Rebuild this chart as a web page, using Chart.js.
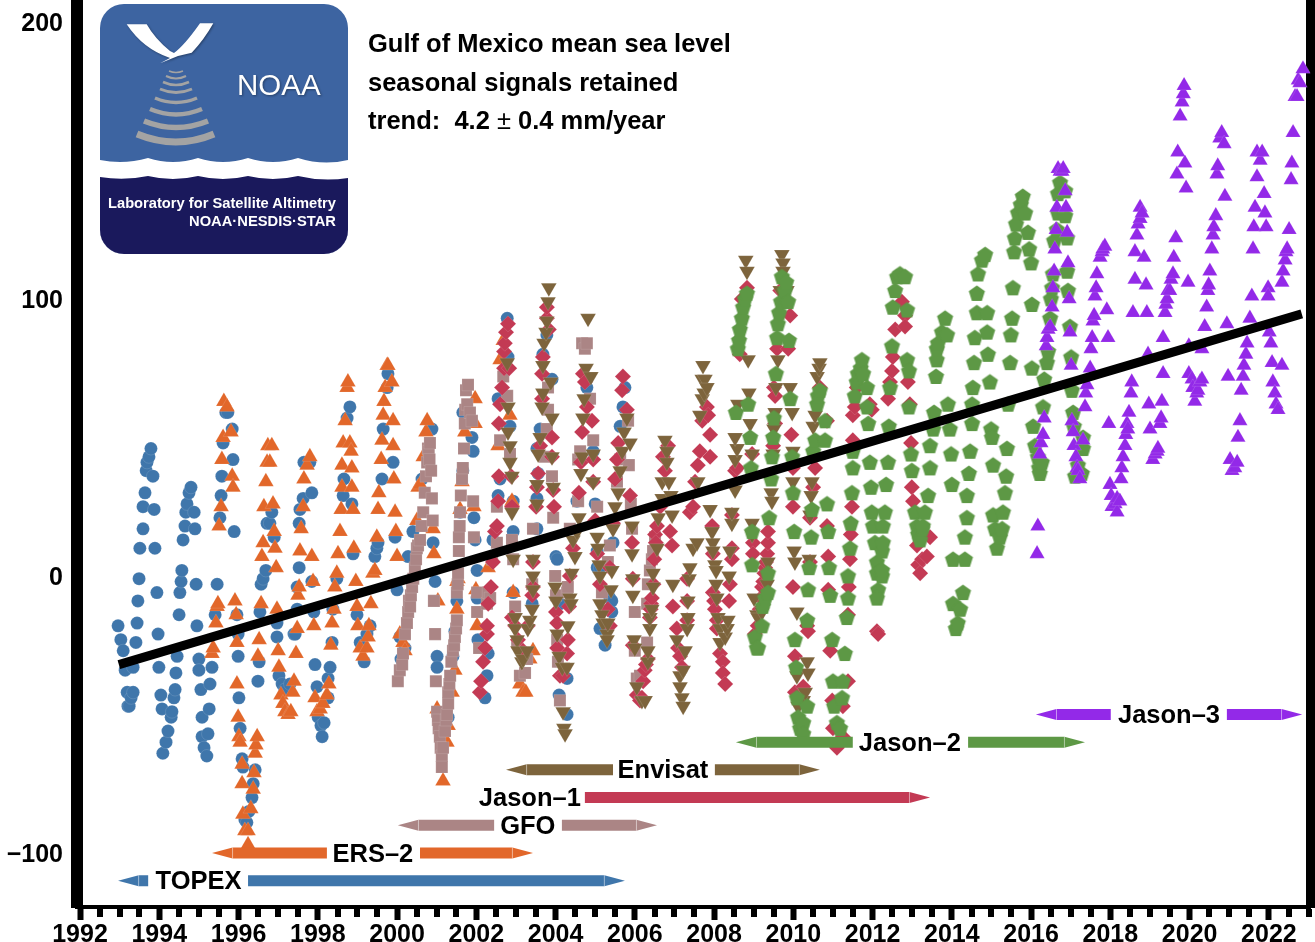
<!DOCTYPE html>
<html>
<head>
<meta charset="utf-8">
<title>Gulf of Mexico mean sea level</title>
<script src="https://cdn.jsdelivr.net/npm/chart.js@4"></script>
<style>
  html, body { margin: 0; padding: 0; background: #fff; }
  #wrap { position: relative; width: 1315px; height: 942px; overflow: hidden; }
  canvas { position: absolute; left: 0; top: 0; }
  .note { position: absolute; left: 368px; font: bold 25.5px "Liberation Sans", sans-serif; color: #000; white-space: pre; line-height: 30px; }
  .note span { font-weight: normal; }
  #logo { position: absolute; left: 100px; top: 4px; }
</style>
</head>
<body>
<div id="wrap">
  <canvas id="seaLevel" width="1315" height="942"></canvas>
  <div class="note" style="top:28px">Gulf of Mexico mean sea level</div>
  <div class="note" style="top:67px">seasonal signals retained</div>
  <div class="note" style="top:105px">trend:  4.2 <span>±</span> 0.4 mm/year</div>
  <svg id="logo" width="248" height="250" viewBox="0 0 248 250">
    <defs><clipPath id="badge"><rect width="248" height="250" rx="24"/></clipPath></defs>
    <g clip-path="url(#badge)">
      <rect width="248" height="250" fill="#3d64a1"/>
      <path d="M0 156 Q24 161 48 154 Q73 162 98 154 Q123 162 148 154 Q173 162 198 154 Q223 162 248 156 V250 H0Z" fill="#fff"/>
      <path d="M0 173 Q24 177 48 172 Q73 178 98 172 Q123 178 148 172 Q173 178 198 172 Q223 178 248 174 V250 H0Z" fill="#1a195c"/>
    </g>
    <path d="M26.7 20.3 L46.7 20.3 Q55 35 70 47 L74 49 Q84 42 100 19.3 L113.3 19.3 Q104 36 91.7 48.7 L78 52 L60 59.3 L70 54 Q43 45 26.7 20.3Z" fill="#fff" style="filter:drop-shadow(1px 1px 1px rgba(0,0,0,.35))"/>
    <g fill="none" stroke="#a3a3a3">
      <path d="M69 67 Q76 70 83 67" stroke-width="1.5"/>
      <path d="M66 72 Q76 77 86 72" stroke-width="2"/>
      <path d="M63 78 Q76 84 89 78" stroke-width="2.5"/>
      <path d="M60 85 Q76 92 92 85" stroke-width="3"/>
      <path d="M55 94 Q76 103 97 94" stroke-width="3.5"/>
      <path d="M50 105 Q76 116 102 105" stroke-width="4.5"/>
      <path d="M44 117 Q76 130 108 117" stroke-width="5.5"/>
      <path d="M37 130 Q76 146 114 130" stroke-width="7"/>
    </g>
    <text x="137" y="91" font-family="Liberation Sans" font-size="29.5" fill="#fff" style="filter:drop-shadow(1px 1px 1px rgba(0,0,0,.35))">NOAA</text>
    <text x="236" y="204" text-anchor="end" font-family="Liberation Sans" font-weight="bold" font-size="14" fill="#fff" textLength="228" lengthAdjust="spacingAndGlyphs">Laboratory for Satellite Altimetry</text>
    <text x="236" y="222" text-anchor="end" font-family="Liberation Sans" font-weight="bold" font-size="14" fill="#fff" textLength="147" lengthAdjust="spacingAndGlyphs">NOAA·NESDIS·STAR</text>
  </svg>
</div>
<script>
// [year, mm], one list per altimeter
const topex = [[1992.96,-18],[1993.03,-23],[1993.09,-27],[1993.14,-34],[1993.19,-42],[1993.21,-47],[1993.24,-47],[1993.29,-44],[1993.34,-42],[1993.34,-33],[1993.41,-24],[1993.44,-17],[1993.46,-9],[1993.49,-1],[1993.51,10],[1993.59,17],[1993.59,25],[1993.64,30],[1993.67,38],[1993.69,41],[1993.74,43],[1993.79,46],[1993.84,36],[1993.87,24],[1993.89,10],[1993.94,-6],[1993.97,-21],[1993.99,-33],[1994.04,-43],[1994.07,-48],[1994.09,-64],[1994.17,-60],[1994.22,-56],[1994.30,-51],[1994.32,-49],[1994.37,-44],[1994.40,-41],[1994.42,-35],[1994.45,-29],[1994.50,-14],[1994.52,-6],[1994.55,-2],[1994.57,2],[1994.60,13],[1994.65,18],[1994.67,23],[1994.70,26],[1994.75,30],[1994.80,32],[1994.88,23],[1994.90,17],[1994.93,-3],[1994.95,-18],[1995.00,-30],[1995.00,-34],[1995.05,-41],[1995.08,-51],[1995.08,-58],[1995.13,-62],[1995.20,-65],[1995.23,-57],[1995.26,-48],[1995.28,-39],[1995.33,-33],[1995.41,-14],[1995.46,-3],[1995.53,21],[1995.56,29],[1995.58,36],[1995.61,48],[1995.68,59],[1995.73,59],[1995.84,53],[1995.86,42],[1995.89,16],[1995.96,-14],[1995.99,-21],[1995.99,-29],[1996.01,-44],[1996.04,-55],[1996.09,-66],[1996.11,-69],[1996.16,-88],[1996.21,-89],[1996.26,-85],[1996.34,-80],[1996.37,-75],[1996.42,-70],[1996.49,-38],[1996.52,-31],[1996.54,-13],[1996.57,-3],[1996.62,-1],[1996.69,2],[1996.72,19],[1996.79,19],[1996.84,23],[1996.90,14],[1996.97,-17],[1996.97,-22],[1997.02,-36],[1997.10,-39],[1997.17,-41],[1997.30,-39],[1997.40,-21],[1997.43,-21],[1997.48,-12],[1997.48,-4],[1997.53,3],[1997.53,19],[1997.55,24],[1997.63,28],[1997.65,41],[1997.80,41],[1997.85,30],[1997.85,-2],[1997.90,-13],[1997.93,-32],[1997.98,-40],[1998.01,-51],[1998.08,-54],[1998.11,-58],[1998.16,-53],[1998.26,-44],[1998.26,-37],[1998.31,-33],[1998.36,-24],[1998.38,-12],[1998.48,-1],[1998.64,29],[1998.66,35],[1998.74,57],[1998.81,61],[1998.86,26],[1998.89,8],[1998.99,-14],[1999.07,-24],[1999.17,-31],[1999.24,-21],[1999.32,-18],[1999.44,7],[1999.49,10],[1999.52,12],[1999.62,35],[1999.65,53],[1999.75,68],[1999.77,73],[1999.90,41],[1999.95,14],[2000.00,-5],[2000.07,-22],[2000.10,-30],[2000.20,-26],[2000.28,7],[2000.40,16],[2000.63,35],[2000.88,53],[2000.91,12],[2000.96,-2],[2001.01,-29],[2001.01,-33],[2001.13,-58],[2001.29,-51],[2001.41,-29],[2001.46,-20],[2001.51,-9],[2001.59,23],[2001.66,38],[2001.66,59],[2001.89,50],[2001.92,45],[2001.94,21],[2001.97,13],[2002.02,2],[2002.02,-8],[2002.04,-23],[2002.22,-44],[2002.27,-36],[2002.30,-28],[2002.42,13],[2002.55,29],[2002.60,35],[2002.55,64],[2002.78,93],[2002.80,79],[2002.85,54],[2002.93,27],[2002.93,16],[2002.93,-6],[2003.41,-10],[2003.53,46],[2003.56,37],[2003.53,28],[2003.53,17],[2003.61,53],[2003.68,80],[2003.78,87],[2003.91,71],[2004.01,7],[2004.04,6],[2004.11,-10],[2004.09,-43],[2004.29,-37],[2004.29,-50],[2004.54,27],[2004.79,68],[2004.95,45],[2005.00,26],[2005.05,9],[2005.05,3],[2005.12,-19],[2005.12,3],[2005.25,-25],[2005.37,-8],[2005.42,-13],[2005.42,-9],[2005.45,12],[2005.63,54],[2005.70,61],[2005.75,68]];

const ers2 = [[1995.33,-28],[1995.36,-26],[1995.43,-17],[1995.46,-11],[1995.48,-10],[1995.51,18],[1995.56,25],[1995.58,42],[1995.61,50],[1995.63,63],[1995.71,61],[1995.81,52],[1995.84,36],[1995.86,32],[1995.91,-9],[1995.94,-14],[1995.96,-24],[1995.96,-39],[1995.99,-51],[1996.01,-58],[1996.04,-60],[1996.09,-68],[1996.09,-75],[1996.11,-86],[1996.16,-92],[1996.24,-92],[1996.24,-97],[1996.31,-84],[1996.37,-77],[1996.39,-71],[1996.42,-64],[1996.44,-61],[1996.47,-58],[1996.49,-29],[1996.52,-23],[1996.57,-10],[1996.59,7],[1996.62,12],[1996.64,25],[1996.69,34],[1996.72,41],[1996.74,47],[1996.79,41],[1996.84,47],[1996.87,26],[1996.90,16],[1996.92,10],[1996.95,3],[1996.97,-12],[1997.00,-27],[1997.02,-33],[1997.07,-43],[1997.12,-46],[1997.17,-49],[1997.25,-50],[1997.32,-49],[1997.37,-42],[1997.40,-38],[1997.45,-28],[1997.48,-19],[1997.50,-7],[1997.53,-4],[1997.55,9],[1997.58,17],[1997.63,25],[1997.65,35],[1997.73,40],[1997.80,43],[1997.85,7],[1997.88,-2],[1997.90,-18],[1997.93,-44],[1997.98,-49],[1998.06,-48],[1998.13,-46],[1998.23,-43],[1998.28,-39],[1998.33,-25],[1998.36,-17],[1998.41,-12],[1998.43,-4],[1998.48,1],[1998.51,8],[1998.56,16],[1998.59,24],[1998.61,32],[1998.61,40],[1998.64,48],[1998.69,56],[1998.74,68],[1998.76,70],[1998.81,48],[1998.84,45],[1998.86,39],[1998.86,32],[1998.89,24],[1998.91,10],[1998.96,-2],[1998.99,-11],[1999.01,-18],[1999.07,-26],[1999.14,-29],[1999.24,-26],[1999.27,-22],[1999.29,-18],[1999.34,-10],[1999.39,1],[1999.44,2],[1999.49,14],[1999.52,24],[1999.54,30],[1999.60,42],[1999.62,49],[1999.65,58],[1999.67,63],[1999.70,68],[1999.75,76],[1999.77,76],[1999.87,70],[1999.90,56],[1999.90,47],[1999.92,35],[1999.95,23],[1999.97,16],[2000.00,7],[2000.07,-21],[2000.15,-24],[2000.20,-27],[2000.50,20],[2000.53,32],[2000.58,33],[2000.66,43],[2000.73,52],[2000.76,56],[2000.91,17],[2000.93,8],[2001.03,-9],[2001.01,-48],[2001.16,-74],[2001.26,-60],[2001.29,-54],[2001.39,-42],[2001.46,-34],[2001.51,-12],[2001.51,-2],[2001.54,-1],[2001.59,24],[2001.64,34],[2001.71,52],[2001.97,55],[2001.97,64],[2001.94,25],[2001.99,-5],[2002.02,-18],[2002.30,3],[2002.55,47],[2002.60,78],[2002.68,85],[2002.85,58],[2002.90,27],[2002.93,-6],[2003.10,-39],[2003.18,-42],[2003.25,-42],[2003.35,-30],[2003.43,-27]];

const gfo = [[2000.02,-38],[2000.07,-34],[2000.13,-32],[2000.15,-28],[2000.20,-21],[2000.25,-17],[2000.28,-13],[2000.30,-9],[2000.33,-11],[2000.35,-7],[2000.38,-4],[2000.41,-1],[2000.45,3],[2000.48,6],[2000.50,10],[2000.53,11],[2000.58,13],[2000.62,18],[2000.66,23],[2000.70,30],[2000.73,36],[2000.76,41],[2000.78,46],[2000.80,45],[2000.83,48],[2000.82,42],[2000.86,38],[2000.88,28],[2000.90,20],[2000.93,-9],[2000.96,-21],[2000.98,-38],[2001.01,-49],[2001.03,-52],[2001.05,-55],[2001.08,-58],[2001.10,-62],[2001.13,-65],[2001.13,-69],[2001.16,-62],[2001.21,-56],[2001.24,-52],[2001.26,-50],[2001.29,-46],[2001.29,-42],[2001.32,-39],[2001.34,-36],[2001.37,-31],[2001.41,-27],[2001.44,-25],[2001.46,-22],[2001.49,-19],[2001.51,-16],[2001.51,-6],[2001.53,-3],[2001.54,1],[2001.56,9],[2001.56,14],[2001.58,18],[2001.59,23],[2001.61,29],[2001.64,35],[2001.66,39],[2001.69,46],[2001.71,55],[2001.72,60],[2001.74,67],[2001.77,62],[2001.79,69],[2001.84,59],[2001.89,56],[2001.92,27],[2001.94,14],[2002.02,-6],[2002.02,-13],[2002.07,-26],[2002.27,-10],[2002.30,-6],[2002.35,-8],[2002.40,6],[2002.52,12],[2002.52,25],[2002.60,49],[2002.68,72],[2002.78,65],[2002.85,44],[2002.90,13],[2002.93,6],[2002.98,-11],[2003.03,-24],[2003.10,-36],[2003.23,-35],[2003.28,-30],[2003.41,-3],[2003.43,17],[2003.73,43],[2003.78,53],[2003.81,60],[2003.81,68],[2003.91,36],[2003.94,21],[2003.99,0],[2004.01,-7],[2004.04,-23],[2004.06,-31],[2004.11,-45],[2004.29,-6],[2004.31,-4],[2004.36,17],[2004.57,27],[2004.57,42],[2004.62,45],[2004.67,84],[2004.74,82],[2004.79,84],[2004.87,64],[2004.95,49],[2005.05,25],[2005.17,-6],[2005.32,5],[2005.37,11],[2005.55,34],[2005.63,42],[2005.83,56],[2005.85,40],[2005.90,26],[2005.93,17],[2006.00,-13],[2006.05,-37],[2006.00,-27],[2006.13,-36],[2006.31,-24],[2006.31,-10],[2006.33,-3],[2006.38,2],[2006.43,6],[2006.46,9],[2006.51,14]];

const jason1 = [[2002.09,-42],[2002.12,-38],[2002.17,-31],[2002.22,-26],[2002.27,-21],[2002.27,-18],[2002.30,-10],[2002.37,-4],[2002.42,5],[2002.47,16],[2002.52,18],[2002.55,27],[2002.57,36],[2002.57,55],[2002.60,62],[2002.65,68],[2002.70,75],[2002.70,81],[2002.72,84],[2002.75,88],[2002.80,91],[2002.83,75],[2002.88,36],[2002.90,25],[2002.90,-15],[2002.98,-18],[2003.05,-23],[2003.18,-27],[2003.30,-18],[2003.41,-7],[2003.43,-4],[2003.43,5],[2003.51,25],[2003.53,32],[2003.56,37],[2003.61,47],[2003.66,64],[2003.66,73],[2003.68,79],[2003.78,93],[2003.78,97],[2003.83,89],[2003.91,50],[2003.91,43],[2003.94,31],[2003.96,25],[2004.01,-13],[2004.04,-17],[2004.04,-26],[2004.11,-36],[2004.19,-36],[2004.29,-28],[2004.31,-23],[2004.34,-11],[2004.36,0],[2004.44,10],[2004.59,30],[2004.64,41],[2004.67,52],[2004.69,73],[2004.74,70],[2004.79,61],[2004.92,56],[2004.95,42],[2004.95,34],[2005.00,20],[2005.05,8],[2005.12,-3],[2005.32,-12],[2005.37,3],[2005.37,-18],[2005.45,19],[2005.50,35],[2005.55,42],[2005.58,48],[2005.68,67],[2005.70,72],[2005.80,60],[2005.88,29],[2005.93,12],[2005.95,-1],[2005.95,-25],[2006.05,-43],[2006.13,-45],[2006.18,-44],[2006.21,-38],[2006.25,-34],[2006.28,-32],[2006.33,-30],[2006.38,-15],[2006.40,-12],[2006.41,-10],[2006.43,-8],[2006.47,-3],[2006.49,6],[2006.51,15],[2006.53,12],[2006.56,18],[2006.64,25],[2006.71,43],[2006.76,38],[2006.84,47],[2006.89,16],[2006.94,11],[2006.96,-11],[2007.06,-19],[2007.09,-26],[2007.14,-29],[2007.19,-33],[2007.32,-16],[2007.32,-9],[2007.32,-1],[2007.39,23],[2007.47,25],[2007.52,34],[2007.59,40],[2007.64,45],[2007.70,56],[2007.82,61],[2007.85,58],[2007.90,51],[2007.90,43],[2007.95,18],[2007.97,8],[2007.97,-6],[2008.00,-9],[2008.02,-12],[2008.07,-16],[2008.07,-19],[2008.15,-28],[2008.22,-31],[2008.22,-35],[2008.28,-39],[2008.38,-9],[2008.40,-3],[2008.45,6],[2008.45,10],[2008.45,22],[2008.53,38],[2008.58,39],[2008.65,80],[2008.70,100],[2008.83,104],[2008.96,44],[2008.98,12],[2008.98,8],[2009.03,-21],[2009.10,-18],[2009.15,-12],[2009.18,-8],[2009.21,-4],[2009.24,-2],[2009.27,1],[2009.29,3],[2009.31,5],[2009.34,8],[2009.36,12],[2009.36,16],[2009.49,47],[2009.51,68],[2009.54,55],[2009.54,65],[2009.59,82],[2009.67,103],[2009.87,82],[2009.92,94],[2009.95,51],[2009.99,39],[2009.99,25],[2009.99,-4],[2010.04,-29],[2010.04,-42],[2010.25,-40],[2010.35,-18],[2010.37,-20],[2010.42,5],[2010.42,21],[2010.50,32],[2010.55,39],[2010.67,68],[2010.85,56],[2010.85,18],[2010.88,7],[2010.88,-5],[2010.93,-27],[2010.98,-45],[2011.00,-55],[2011.10,-62],[2011.25,-58],[2011.25,-47],[2011.38,-38],[2011.38,-14],[2011.40,-4],[2011.43,6],[2011.45,15],[2011.48,25],[2011.50,49],[2011.50,58],[2011.55,61],[2011.60,68],[2011.93,62],[2011.98,60],[2012.11,-20],[2012.14,-21],[2012.39,64],[2012.44,70],[2012.49,74],[2012.51,79],[2012.57,89],[2012.74,99],[2012.82,94],[2012.82,90],[2012.89,70],[2012.94,62],[2012.97,48],[2012.99,32],[2013.02,27],[2013.12,11],[2013.15,4],[2013.20,1],[2013.25,6],[2013.37,7],[2013.45,14]];

const envisat = [[2002.78,77],[2002.80,61],[2002.80,52],[2002.85,47],[2002.85,41],[2002.90,36],[2002.90,23],[2002.93,6],[2002.98,-15],[2002.98,-19],[2003.03,-23],[2003.05,-27],[2003.15,-31],[2003.18,-30],[2003.28,-27],[2003.30,-19],[2003.35,-16],[2003.41,-12],[2003.43,-5],[2003.43,0],[2003.43,6],[2003.53,26],[2003.53,33],[2003.56,44],[2003.61,50],[2003.66,61],[2003.68,66],[2003.68,76],[2003.71,84],[2003.76,88],[2003.78,92],[2003.81,99],[2003.83,104],[2003.88,70],[2003.91,57],[2003.91,43],[2003.94,32],[2003.99,-4],[2004.01,-9],[2004.04,-21],[2004.09,-29],[2004.17,-33],[2004.19,-49],[2004.21,-55],[2004.24,-57],[2004.29,-33],[2004.31,-18],[2004.36,-8],[2004.39,-10],[2004.41,1],[2004.44,13],[2004.49,7],[2004.54,16],[2004.59,21],[2004.64,37],[2004.67,43],[2004.69,57],[2004.72,64],[2004.77,75],[2004.82,93],[2004.89,72],[2004.95,44],[2004.95,34],[2005.05,14],[2005.07,10],[2005.10,4],[2005.12,0],[2005.12,-10],[2005.17,-14],[2005.20,-17],[2005.30,-21],[2005.30,-23],[2005.32,-17],[2005.40,-5],[2005.42,2],[2005.45,17],[2005.50,25],[2005.58,30],[2005.63,38],[2005.68,45],[2005.73,52],[2005.80,57],[2005.88,48],[2005.93,18],[2005.93,8],[2005.95,-1],[2005.95,-7],[2005.98,-23],[2006.00,-26],[2006.05,-40],[2006.18,-45],[2006.26,-45],[2006.33,-31],[2006.33,-27],[2006.38,-19],[2006.38,-15],[2006.43,-12],[2006.46,-4],[2006.46,1],[2006.56,10],[2006.59,21],[2006.69,28],[2006.69,34],[2006.76,49],[2006.81,45],[2006.81,41],[2006.86,34],[2006.91,29],[2006.94,22],[2006.96,-3],[2007.06,-23],[2007.14,-36],[2007.14,-40],[2007.19,-44],[2007.22,-47],[2007.22,-34],[2007.27,-27],[2007.32,-19],[2007.34,-9],[2007.34,-15],[2007.37,-1],[2007.39,3],[2007.47,10],[2007.57,12],[2007.59,34],[2007.64,58],[2007.70,64],[2007.72,76],[2007.70,71],[2007.75,66],[2007.77,71],[2007.82,68],[2007.90,24],[2007.95,16],[2007.97,12],[2007.97,9],[2008.02,4],[2008.05,2],[2008.05,-3],[2008.07,-8],[2008.10,-15],[2008.15,-19],[2008.15,-24],[2008.28,-22],[2008.33,-19],[2008.35,-16],[2008.38,0],[2008.40,9],[2008.45,19],[2008.45,23],[2008.53,31],[2008.53,42],[2008.58,46],[2008.53,50],[2008.60,62],[2008.80,114],[2008.83,110],[2008.86,78],[2008.88,66],[2008.91,55],[2008.96,44],[2008.96,19],[2008.96,15],[2009.01,-8],[2009.08,-14],[2009.11,-15],[2009.21,-13],[2009.34,-3],[2009.36,5],[2009.44,30],[2009.46,27],[2009.49,44],[2009.51,53],[2009.54,59],[2009.56,68],[2009.61,78],[2009.67,103],[2009.71,116],[2009.74,113],[2009.74,110],[2009.84,103],[2009.92,68],[2009.97,59],[2009.99,45],[2009.99,34],[2010.02,9],[2010.04,5],[2010.09,-13],[2010.09,-36],[2010.12,-47],[2010.25,-45],[2010.30,-42],[2010.35,-31],[2010.37,-35],[2010.40,6],[2010.42,22],[2010.45,29],[2010.47,34],[2010.50,54],[2010.55,58],[2010.60,72],[2010.65,75],[2010.67,77]];

const jason2 = [[2008.55,59],[2008.60,82],[2008.63,85],[2008.65,89],[2008.70,93],[2008.73,97],[2008.78,100],[2008.83,102],[2008.86,62],[2008.91,50],[2008.93,39],[2008.96,16],[2008.96,4],[2009.03,-22],[2009.08,-26],[2009.11,-26],[2009.21,-18],[2009.23,-11],[2009.29,-8],[2009.36,-6],[2009.36,1],[2009.39,21],[2009.44,35],[2009.46,43],[2009.49,50],[2009.51,57],[2009.56,73],[2009.59,86],[2009.61,91],[2009.64,95],[2009.69,99],[2009.71,108],[2009.79,103],[2009.82,106],[2009.87,99],[2009.89,85],[2009.92,64],[2009.97,43],[2009.99,30],[2010.02,16],[2010.04,-23],[2010.07,-33],[2010.09,-44],[2010.12,-51],[2010.17,-55],[2010.25,-53],[2010.25,-57],[2010.35,-47],[2010.35,-16],[2010.37,-5],[2010.40,3],[2010.45,14],[2010.47,24],[2010.50,45],[2010.55,49],[2010.60,62],[2010.62,65],[2010.67,67],[2010.80,56],[2010.80,49],[2010.85,26],[2010.88,16],[2010.90,3],[2010.93,-7],[2010.98,-23],[2011.00,-38],[2011.03,-47],[2011.10,-53],[2011.18,-55],[2011.23,-44],[2011.25,-38],[2011.30,-28],[2011.35,-15],[2011.38,-8],[2011.38,0],[2011.43,10],[2011.45,19],[2011.48,30],[2011.50,39],[2011.50,45],[2011.55,65],[2011.60,70],[2011.63,73],[2011.70,75],[2011.73,78],[2011.76,73],[2011.86,68],[2011.86,61],[2011.89,55],[2011.93,41],[2011.96,32],[2011.98,23],[2012.01,18],[2012.06,12],[2012.11,5],[2012.11,1],[2012.14,-5],[2012.11,-8],[2012.24,0],[2012.24,2],[2012.24,9],[2012.26,12],[2012.26,18],[2012.31,23],[2012.34,33],[2012.39,41],[2012.41,54],[2012.44,68],[2012.49,83],[2012.51,97],[2012.57,103],[2012.62,108],[2012.69,109],[2012.82,108],[2012.87,96],[2012.87,78],[2012.92,74],[2012.92,61],[2012.97,44],[2012.99,38],[2013.07,23],[2013.12,18],[2013.15,15],[2013.20,13],[2013.25,17],[2013.27,18],[2013.32,23],[2013.40,29],[2013.45,39],[2013.45,47],[2013.53,53],[2013.55,59],[2013.60,72],[2013.62,78],[2013.62,82],[2013.65,84],[2013.75,88],[2013.83,93],[2013.88,87],[2013.90,62],[2013.95,53],[2013.98,44],[2014.00,33],[2014.03,6],[2014.03,-10],[2014.10,-19],[2014.15,-17],[2014.21,-12],[2014.28,-6],[2014.33,6],[2014.33,14],[2014.38,21],[2014.38,29],[2014.43,37],[2014.46,45],[2014.51,55],[2014.51,62],[2014.53,68],[2014.56,77],[2014.58,86],[2014.63,95],[2014.63,102],[2014.66,109],[2014.76,114],[2014.84,116],[2014.89,95],[2014.89,88],[2014.91,80],[2014.96,70],[2014.99,53],[2015.01,50],[2015.04,40],[2015.04,22],[2015.09,17],[2015.14,10],[2015.21,14],[2015.27,17],[2015.29,23],[2015.34,30],[2015.37,36],[2015.39,46],[2015.42,62],[2015.47,77],[2015.49,87],[2015.52,93],[2015.54,104],[2015.57,117],[2015.59,122],[2015.62,127],[2015.67,131],[2015.74,134],[2015.79,137],[2015.85,131],[2015.92,124],[2015.95,118],[2016.00,113],[2016.02,98],[2016.02,75],[2016.05,54],[2016.10,47],[2016.17,43],[2016.20,39],[2016.22,37],[2016.27,41],[2016.30,61],[2016.33,71],[2016.40,77],[2016.43,81],[2016.48,93],[2016.50,100],[2016.53,104],[2016.55,109],[2016.58,121],[2016.65,125],[2016.68,131],[2016.68,138],[2016.73,142],[2016.86,139],[2016.86,130],[2016.91,122],[2016.91,110],[2016.93,103],[2016.98,90],[2017.01,79],[2017.03,67],[2017.06,59],[2017.08,54],[2017.11,36],[2017.18,40],[2017.28,37],[2017.31,46],[2017.31,50]];

const jason3 = [[2016.15,8],[2016.17,18],[2016.22,44],[2016.25,48],[2016.30,51],[2016.33,57],[2016.38,83],[2016.40,86],[2016.43,89],[2016.48,90],[2016.53,97],[2016.55,104],[2016.58,110],[2016.60,118],[2016.63,125],[2016.65,133],[2016.68,147],[2016.73,146],[2016.78,146],[2016.81,147],[2016.86,139],[2016.88,133],[2016.91,124],[2016.93,113],[2016.96,100],[2016.98,88],[2017.01,76],[2017.03,56],[2017.06,52],[2017.08,47],[2017.13,43],[2017.16,39],[2017.18,38],[2017.23,35],[2017.31,49],[2017.36,61],[2017.38,66],[2017.41,69],[2017.49,75],[2017.51,82],[2017.54,86],[2017.56,92],[2017.59,94],[2017.61,101],[2017.64,104],[2017.66,109],[2017.74,115],[2017.79,117],[2017.81,118],[2017.86,119],[2017.91,96],[2017.94,86],[2017.96,55],[2017.99,33],[2018.02,29],[2018.04,25],[2018.12,26],[2018.17,28],[2018.17,23],[2018.24,27],[2018.27,35],[2018.29,39],[2018.32,43],[2018.37,47],[2018.39,51],[2018.42,55],[2018.44,53],[2018.47,59],[2018.52,66],[2018.54,70],[2018.57,95],[2018.62,107],[2018.62,117],[2018.67,123],[2018.70,127],[2018.75,129],[2018.75,133],[2018.80,131],[2018.85,115],[2018.90,105],[2018.92,95],[2018.95,80],[2018.97,62],[2019.00,53],[2019.07,42],[2019.13,44],[2019.18,45],[2019.20,46],[2019.25,55],[2019.28,57],[2019.30,63],[2019.33,73],[2019.33,86],[2019.38,95],[2019.40,98],[2019.43,100],[2019.45,103],[2019.50,103],[2019.53,107],[2019.58,109],[2019.60,115],[2019.65,122],[2019.68,145],[2019.70,153],[2019.76,166],[2019.81,171],[2019.84,174],[2019.86,177],[2019.88,149],[2019.91,140],[2019.96,106],[2019.98,83],[2019.98,73],[2020.06,71],[2020.08,68],[2020.13,63],[2020.18,66],[2020.21,67],[2020.26,70],[2020.31,71],[2020.31,82],[2020.38,90],[2020.43,97],[2020.46,103],[2020.48,105],[2020.51,110],[2020.56,118],[2020.59,123],[2020.61,126],[2020.66,130],[2020.69,145],[2020.71,148],[2020.76,158],[2020.81,160],[2020.87,156],[2020.89,137],[2020.94,91],[2020.97,72],[2021.02,42],[2021.07,38],[2021.14,39],[2021.20,41],[2021.22,50],[2021.27,56],[2021.30,67],[2021.35,72],[2021.37,76],[2021.42,80],[2021.45,84],[2021.52,93],[2021.57,101],[2021.60,118],[2021.62,126],[2021.65,133],[2021.70,144],[2021.70,153],[2021.78,150],[2021.83,153],[2021.88,138],[2021.90,131],[2021.93,126],[2021.98,104],[2021.98,101],[2022.01,88],[2022.05,84],[2022.08,77],[2022.10,70],[2022.15,66],[2022.18,62],[2022.23,60],[2022.33,76],[2022.33,106],[2022.36,110],[2022.41,114],[2022.43,117],[2022.46,118],[2022.51,125],[2022.56,143],[2022.58,149],[2022.61,160],[2022.66,173],[2022.71,173],[2022.74,179],[2022.78,178],[2022.86,183]];

const trendLine = [[1992.98,-32],[2022.83,94.6]];

const missionNames = ['TOPEX','ERS–2','GFO','Jason–1','Envisat','Jason–2','Jason–3'];
const missionLevels = [-110,-100,-90,-80,-70,-60,-50];
const missionStart = [1992.96,1995.33,2000.02,null,2002.75,2008.55,2016.12];
const missionEnd = [2005.75,2003.43,2006.56,2013.45,2010.67,2017.36,2022.84];
const labelLeft = [1993.72,1998.23,2002.45,null,2005.45,2011.50,2018.01];
const labelRight = [1996.24,2000.58,2004.16,2004.74,2008.02,2014.41,2020.94];
const labelCentre = [1994.99,1999.39,2003.30,2003.35,2006.71,2012.94,2019.48];
const headYears = 0.52;

const missionColors = ['#3f76ab','#e2672a','#ab8585','#c33a54','#7d643c','#5d9845','#9329e8'];

const xTicks = [1992,1994,1996,1998,2000,2002,2004,2006,2008,2010,2012,2014,2016,2018,2020,2022];
const xMinorTicks = [];
for (let y = 1992.5; y < 2023.1; y += 0.5) if (y % 2 !== 0) xMinorTicks.push(y);
const yTicks = [-100,0,100,200];

const FONT = '"Liberation Sans", sans-serif';

// chart.js has no pentagon marker
function pentagon(color) {
  const c = document.createElement('canvas');
  c.width = c.height = 19;
  const g = c.getContext('2d');
  g.fillStyle = color;
  g.beginPath();
  for (let i = 0; i < 5; i++) {
    const a = -Math.PI / 2 + i * 2 * Math.PI / 5;
    g.lineTo(9.5 + 8.5 * Math.cos(a), 10 + 8.5 * Math.sin(a));
  }
  g.closePath();
  g.fill();
  return c;
}

const haloColor = 'rgba(255,255,255,0.25)';
function markers(name, data, idx, style, radius, rotation) {
  return {
    label: name,
    data: data,
    order: 20 - idx,
    showLine: false,
    pointStyle: style,
    pointRadius: radius,
    pointRotation: rotation || 0,
    pointBackgroundColor: missionColors[idx],
    pointBorderColor: haloColor,
    pointBorderWidth: 0.5
  };
}

const datasets = [
  markers('TOPEX', topex, 0, 'circle', 6.5),
  markers('ERS-2', ers2, 1, 'triangle', 9),
  markers('GFO', gfo, 2, 'rect', 8.5),
  markers('Jason-1', jason1, 3, 'rectRot', 8),
  markers('Envisat', envisat, 4, 'triangle', 9, 180),
  markers('Jason-2', jason2, 5, pentagon(missionColors[5]), 8.5),
  markers('Jason-3', jason3, 6, 'triangle', 8.7),
  { label: 'trend', data: trendLine, order: 0, showLine: true, borderColor: '#000', borderWidth: 9, pointRadius: 0, borderCapStyle: 'butt' }
];

// mission bars, broken where the name sits
missionNames.forEach((name, i) => {
  const level = missionLevels[i];
  const pts = [];
  if (missionStart[i] !== null) {
    pts.push([missionStart[i] + headYears, level], [labelLeft[i], level], [labelLeft[i], null]);
  }
  pts.push([labelRight[i], level], [missionEnd[i] - headYears, level]);
  datasets.push({ label: name + ' span', data: pts, order: 1, showLine: true, spanGaps: false, borderColor: missionColors[i], borderWidth: 11, pointRadius: 0, borderCapStyle: 'butt' });
});

const minorTicksPlugin = {
  id: 'minorTicks',
  afterDraw(chart) {
    const { ctx, scales: { x } } = chart;
    ctx.save();
    ctx.fillStyle = '#000';
    xMinorTicks.forEach(v => {
      const px = x.getPixelForValue(v);
      ctx.fillRect(Math.round(px - 3), x.top + 2, 6, 8);
    });
    ctx.restore();
  }
};

const missionsPlugin = {
  id: 'missions',
  afterDatasetsDraw(chart) {
    const { ctx, scales: { x, y } } = chart;
    const half = 5.5;
    function head(tip, base, py, color) {
      ctx.fillStyle = color;
      ctx.beginPath();
      ctx.moveTo(tip, py);
      ctx.lineTo(base, py - half);
      ctx.lineTo(base, py + half);
      ctx.closePath();
      ctx.fill();
      ctx.strokeStyle = 'rgba(255,255,255,0.35)';
      ctx.lineWidth = 1;
      ctx.beginPath();
      ctx.moveTo(base, py - half);
      ctx.lineTo(base, py + half);
      ctx.stroke();
    }
    ctx.save();
    missionNames.forEach((name, i) => {
      const py = y.getPixelForValue(missionLevels[i]);
      if (missionStart[i] !== null) {
        head(x.getPixelForValue(missionStart[i]), x.getPixelForValue(missionStart[i] + headYears), py, missionColors[i]);
      }
      head(x.getPixelForValue(missionEnd[i]), x.getPixelForValue(missionEnd[i] - headYears), py, missionColors[i]);
      ctx.fillStyle = '#000';
      ctx.font = 'bold 25.5px ' + FONT;
      ctx.textAlign = 'center';
      ctx.textBaseline = 'middle';
      ctx.fillText(name, x.getPixelForValue(labelCentre[i]), py + 1.5);
    });
    ctx.restore();
  }
};

// keep the plot box where the frame is, whatever the labels overhang
function noOverhang(s) {
  s.paddingLeft = s.paddingRight = s.paddingTop = s.paddingBottom = 0;
}

new Chart(document.getElementById('seaLevel'), {
  type: 'scatter',
  data: { datasets: datasets },
  plugins: [missionsPlugin, minorTicksPlugin],
  options: {
    responsive: false,
    animation: false,
    events: [],
    layout: { autoPadding: false, padding: 0 },
    plugins: { legend: { display: false }, tooltip: { enabled: false }, title: { display: false } },
    scales: {
      x: {
        type: 'linear',
        min: 1991.924,
        max: 2023.05,
        afterBuildTicks: s => { s.ticks = xTicks.map(v => ({ value: v })); },
        afterFit: s => { s.height = 35; noOverhang(s); },
        grid: { drawOnChartArea: false, tickLength: 13, tickWidth: 6, tickColor: '#000' },
        border: { color: '#000', width: 4 },
        ticks: { autoSkip: false, maxRotation: 0, padding: 0, color: '#000', font: { family: FONT, weight: 'bold', size: 25 }, callback: v => String(v) }
      },
      y: {
        min: -119.5,
        max: 207.9,
        afterBuildTicks: s => { s.ticks = yTicks.map(v => ({ value: v })); },
        afterFit: s => { s.width = 77; noOverhang(s); },
        grid: { drawOnChartArea: false, tickLength: 6, tickWidth: 6, tickColor: '#000' },
        border: { color: '#000', width: 12 },
        ticks: { padding: 8, labelOffset: 2, color: '#000', font: { family: FONT, weight: 'bold', size: 25 }, callback: v => (v < 0 ? '−' + (-v) : String(v)) }
      },
      yRight: {
        axis: 'y',
        position: 'right',
        min: -119.5,
        max: 207.9,
        afterFit: s => { s.width = 4.5; noOverhang(s); },
        grid: { drawOnChartArea: false, drawTicks: false },
        border: { color: '#000', width: 9 },
        ticks: { display: false }
      }
    }
  }
});
</script>
</body>
</html>
